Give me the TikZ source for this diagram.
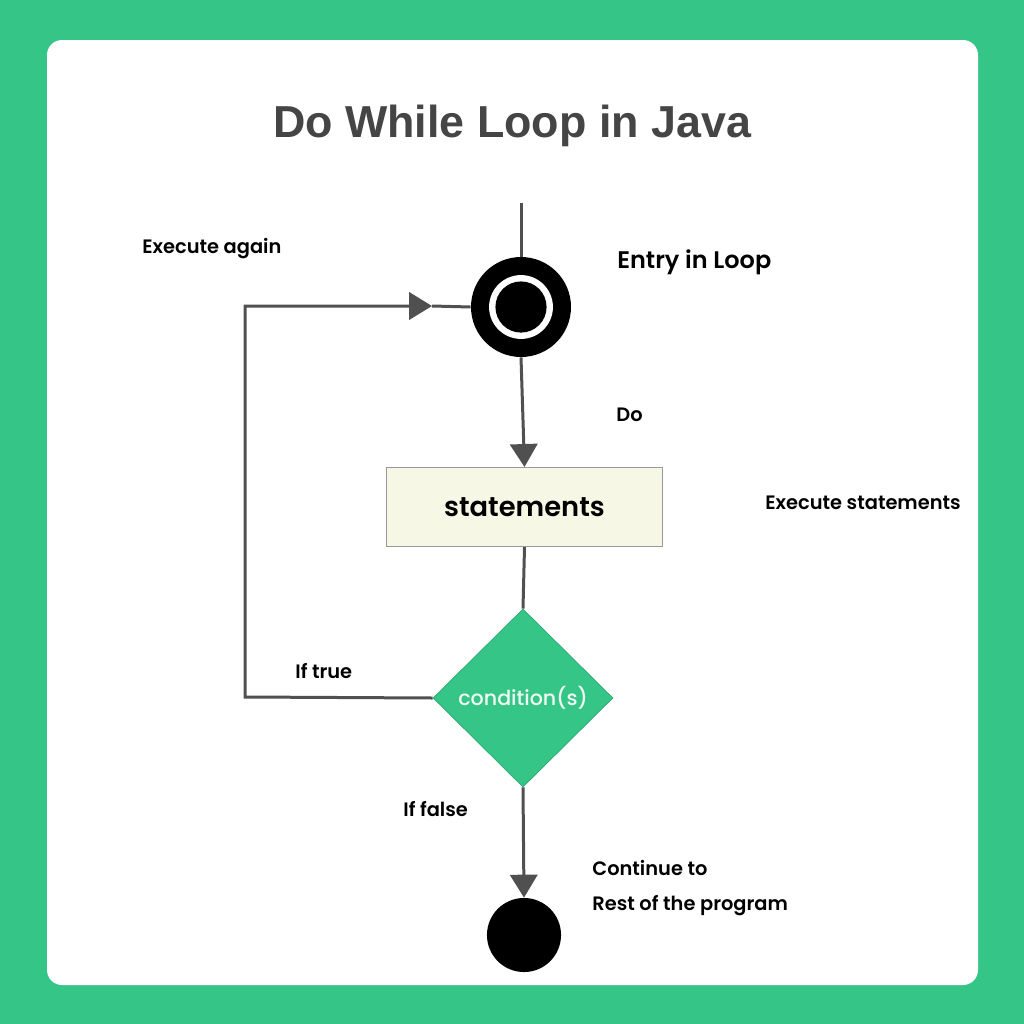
\documentclass[tikz,border=0pt]{standalone}
\usepackage{fontspec}
\setmainfont{Poppins Medium}
\newfontfamily\semifont{Poppins SemiBold}
\newfontfamily\titlefont{Liberation Sans}
\usetikzlibrary{arrows.meta,shapes.geometric}

\definecolor{jgreen}{HTML}{35C687}
\definecolor{jline}{HTML}{505050}
\definecolor{jtitle}{HTML}{454545}
\definecolor{jbox}{HTML}{F7F7E6}

\tikzset{
  flow/.style={draw=jline,line width=1.7pt},
  tip/.style={-{Triangle[length=13pt,width=15.5pt]}},
  lbl/.style={anchor=west,inner sep=0pt,font=\semifont\fontsize{11}{13}\selectfont},
}

\begin{document}
\begin{tikzpicture}[x=0.567pt,y=-0.567pt,line cap=butt,line join=miter]
  \useasboundingbox (0,0) rectangle (1024,1024);
  \fill[jgreen] (0,0) rectangle (1024,1024);
  \fill[white,rounded corners=8.5pt] (47,40) rectangle (978,985);
  \node (title) at (512,126) {\titlefont\bfseries\color{jtitle}\fontsize{25.4}{28}\selectfont Do While Loop in Java};

  % shapes
  \coordinate (top) at (521,203);
  \node[circle,fill=black,minimum size=56.7pt,inner sep=0pt] (entry) at (521,307) {};
  \fill[white] (entry) circle (18.1pt);
  \fill[black] (entry) circle (14.5pt);
  \node[rectangle,draw=black!40,fill=jbox,line width=0.6pt,minimum width=156pt,minimum height=44.8pt,
        font=\semifont\fontsize{15.5}{18}\selectfont] (stmts) at (524.5,507) {statements};
  \node[diamond,fill=jgreen,draw=jgreen!85!black,line width=0.4pt,minimum width=102pt,minimum height=101pt,
        inner sep=0pt,text=white!92!jgreen,font=\fontsize{11.7}{13}\selectfont] (cond) at (523,698) {condition(s)};
  \node[circle,fill=black,minimum size=42pt,inner sep=0pt] (finish) at (524,935) {};
  \coordinate (lowleft) at (245,697);
  \coordinate (upleft) at (245,306);
  \coordinate (mid) at (432,306);

  % connectors
  \draw[flow] (top) -- (entry.north);
  \draw[flow,tip] (entry.south) -- (stmts.north);
  \draw[flow] (stmts.south) -- (cond.north);
  \draw[flow,tip] (cond.south) -- (finish.north);
  \draw[flow,tip] (cond.west) -- (lowleft) -- (upleft) -- (mid);
  \draw[flow] (mid) -- (entry.west);

  % labels
  \node[lbl] (again) at (142,249) {Execute again};
  \node[lbl,font=\semifont\fontsize{13.6}{16}\selectfont] (entrytxt) at (617,262) {Entry in Loop};
  \node[lbl] (dotxt) at (616,415) {Do};
  \node[lbl] (exectxt) at (765,503) {Execute statements};
  \node[lbl] (truetxt) at (295,671) {If true};
  \node[lbl] (falsetxt) at (403,809) {If false};
  \node[lbl] (conttxt) at (592,868) {Continue to};
  \node[lbl] (resttxt) at (592,906) {Rest of the program};
\end{tikzpicture}
\end{document}
